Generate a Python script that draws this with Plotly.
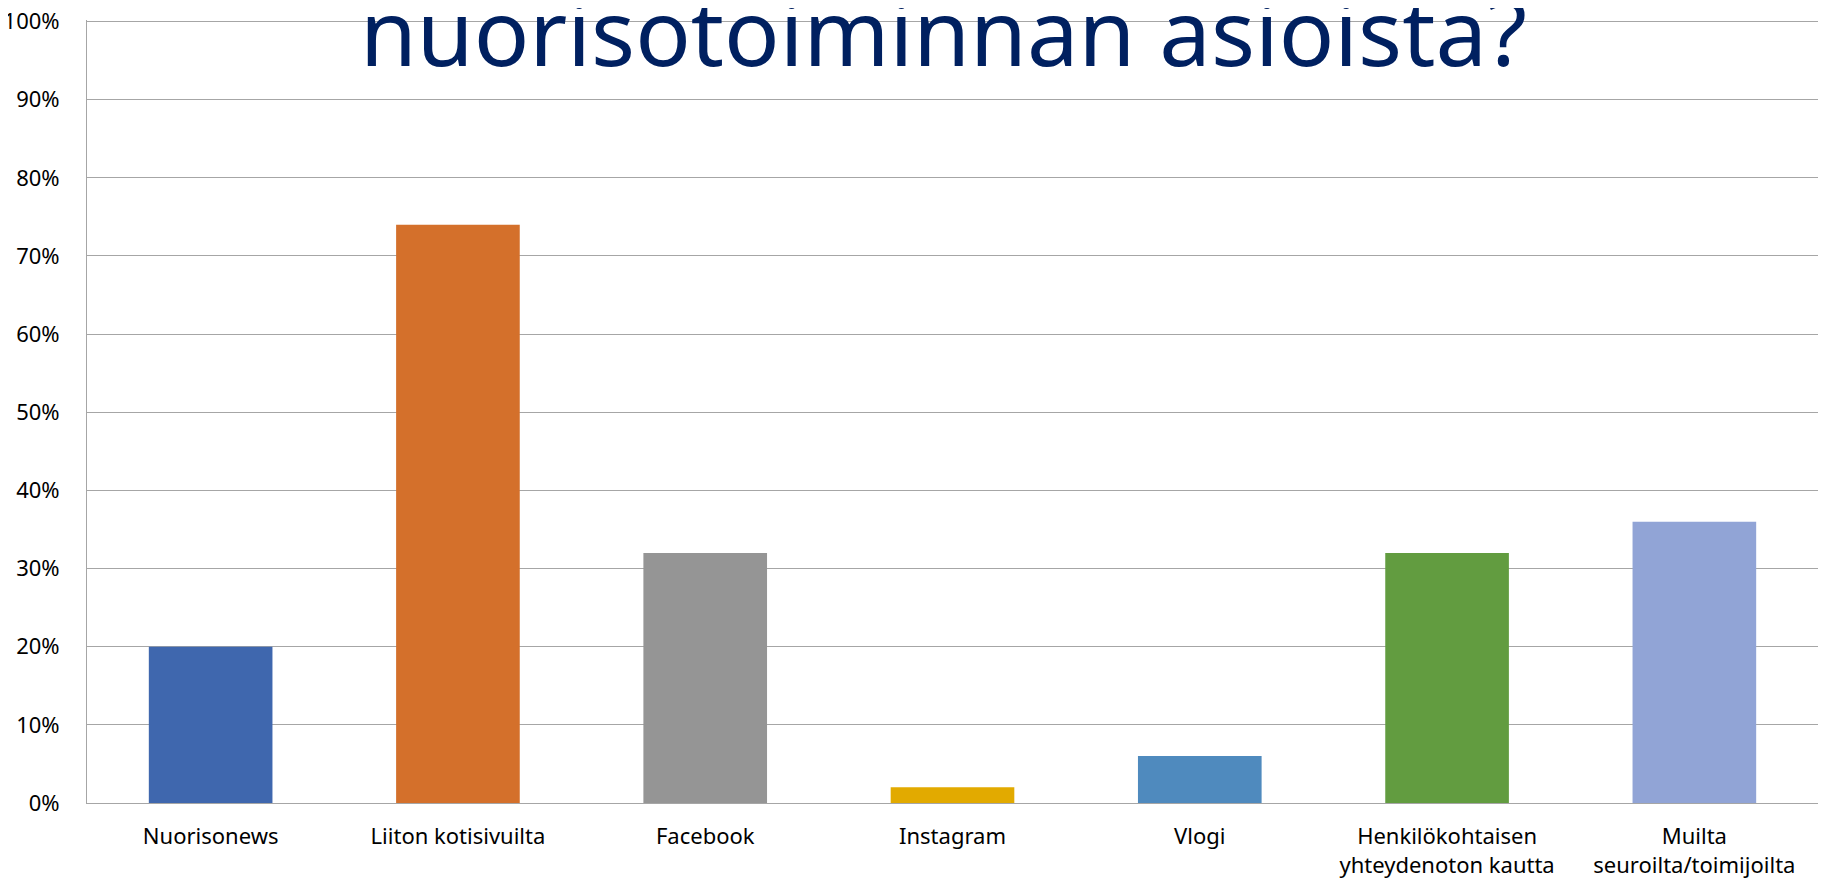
import plotly.graph_objects as go

categories = ["Nuorisonews", "Liiton kotisivuilta", "Facebook", "Instagram", "Vlogi",
              "Henkilökohtaisen<br>yhteydenoton kautta", "Muilta<br>seuroilta/toimijoilta"]
values = [0.20, 0.74, 0.32, 0.02, 0.06, 0.32, 0.36]
colors = ["#3F67AE", "#D4702B", "#959595", "#E2AA00", "#4F8ABE", "#629C40", "#91A4D6"]
y_ticks = [0.0, 0.1, 0.2, 0.3, 0.4, 0.5, 0.6, 0.7, 0.8, 0.9, 1.0]
y_tick_labels = ["0%", "10%", "20%", "30%", "40%", "50%", "60%", "70%", "80%", "90%", "100%"]
title_text = "nuorisotoiminnan asioista?"

FONT = "Noto Sans, sans-serif"

fig = go.Figure(go.Bar(x=categories, y=values, marker_color=colors, marker_line_width=0,
                       width=0.5))

fig.update_layout(
    width=1827, height=883,
    margin=dict(l=79, r=17, t=12, b=88, autoexpand=False),
    paper_bgcolor="white", plot_bgcolor="white",
    showlegend=False,
    font=dict(family=FONT, size=22, color="#000000"),
)
fig.update_yaxes(range=[0, 1.002], tickmode="array", tickvals=y_ticks, ticktext=y_tick_labels,
                 showgrid=True, gridcolor="#A6A6A6", gridwidth=1, showline=True,
                 linecolor="#A6A6A6", linewidth=1, zeroline=False, automargin=False,
                 ticks="outside", ticklen=22, tickcolor="rgba(0,0,0,0)",
                 ticklabeloverflow="allow",
                 tickfont=dict(family=FONT, size=22, color="#000000"))
fig.update_xaxes(showline=True, linecolor="#A6A6A6", linewidth=1, automargin=False,
                 ticks="outside", ticklen=14, tickcolor="rgba(0,0,0,0)",
                 tickfont=dict(family=FONT, size=22, color="#000000"))

fig.add_annotation(text=title_text, xref="paper", yref="paper", x=0.495, y=0.987,
                   xanchor="center", yanchor="middle", showarrow=False,
                   font=dict(family="Noto Sans, sans-serif", size=92, color="#002060"))

fig.write_html("out.html")
